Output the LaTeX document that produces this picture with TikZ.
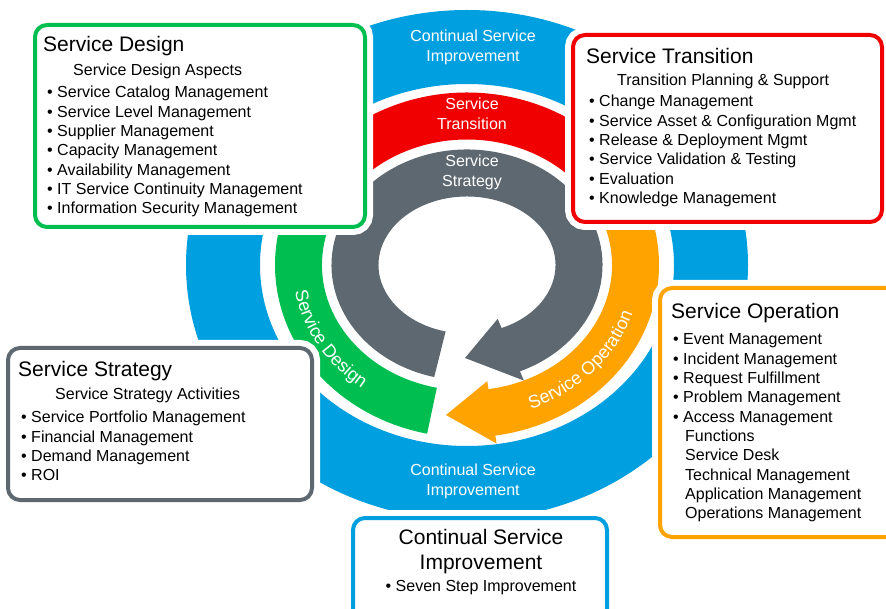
\documentclass[tikz,border=0pt]{standalone}
\usepackage{fontspec}
\setmainfont{Liberation Sans}
\usetikzlibrary{positioning,decorations.text}

\definecolor{csiblue}{RGB}{0,159,223}
\definecolor{stred}{RGB}{240,0,0}
\definecolor{ssgray}{RGB}{93,104,112}
\definecolor{sdgreen}{RGB}{0,190,80}
\definecolor{soorange}{RGB}{255,163,0}

\begin{document}
\begin{tikzpicture}[x=1pt,y=1pt,
    box/.style={draw=#1,line width=4pt,fill=white,rounded corners=12pt,
      preaction={draw=white,line width=16pt}},
    boxtext/.style={anchor=base west,inner sep=0pt,font=\fontsize{16}{19.3}\selectfont},
    bandtext/.style={anchor=base,inner sep=0pt,text=white,font=\fontsize{16}{19.5}\selectfont},
    arctext/.style={decorate,decoration={text along path,text color=white,text align=center,
      text={|\fontsize{18}{18}\selectfont|#1}}}]

\fill[white] (0,0) rectangle (886,608);
\useasboundingbox (0,0) rectangle (886,608);

\begin{scope}[shift={(467,343)}]
  \fill[csiblue,even odd rule] (0,0) ellipse[x radius=281,y radius=255]
    (0,0) ellipse[x radius=207,y radius=181];
  \fill[stred] (38:192 and 172.5) arc[start angle=38,end angle=140,x radius=192,y radius=172.5]
    -- (140:145 and 125.5) arc[start angle=140,end angle=38,x radius=145,y radius=125.5] -- cycle;
  \fill[sdgreen] (140:192 and 172.5) arc[start angle=140,end angle=258,x radius=192,y radius=172.5]
    -- (258:145 and 125.5) arc[start angle=258,end angle=140,x radius=145,y radius=125.5] -- cycle;
  \fill[soorange] (38:192 and 172.5) arc[start angle=38,end angle=-81.5,x radius=192,y radius=172.5]
    -- (-81.5:200 and 180.5) -- (-21,-150) -- (-81.5:137 and 117.5)
    -- (-81.5:145 and 125.5) arc[start angle=-81.5,end angle=38,x radius=145,y radius=125.5] -- cycle;
  \fill[ssgray] (256:135.5 and 115.5) arc[start angle=256,end angle=-67,x radius=135.5,y radius=115.5]
    -- (-67:145.5 and 125.5) -- (-2,-93) -- (-67:78.5 and 58.5)
    -- (-67:88.5 and 68.5) arc[start angle=-67,end angle=256,x radius=88.5,y radius=68.5] -- cycle;
  \path[arctext={Service Design}] (160:174.5 and 155)
    arc[start angle=160,end angle=260,x radius=174.5,y radius=155];
  \path[arctext={Service Operation}] (-92:174.5 and 155)
    arc[start angle=-92,end angle=8,x radius=174.5,y radius=155];
\end{scope}

\node[bandtext] (csitop) at (473,566) {\begin{tabular}[t]{@{}c@{}}Continual Service\\Improvement\end{tabular}};
\node[bandtext] (stlabel) at (472,498) {\begin{tabular}[t]{@{}c@{}}Service\\Transition\end{tabular}};
\node[bandtext] (sslabel) at (472,441) {\begin{tabular}[t]{@{}c@{}}Service\\Strategy\end{tabular}};
\node[bandtext] (csibottom) at (473,132) {\begin{tabular}[t]{@{}c@{}}Continual Service\\Improvement\end{tabular}};

\node[box=sdgreen,minimum width=330,minimum height=202] (design) at (200,482) {};
\node[box=stred,minimum width=309,minimum height=187] (transition) at (727.5,479.5) {};
\node[box=soorange,minimum width=240,minimum height=249] (operation) at (780,195.5) {};
\node[box=ssgray,minimum width=304,minimum height=152] (strategy) at (160,184) {};
\node[box=csiblue,minimum width=254,minimum height=110] (improvement) at (480,35) {};

\node[boxtext] (designtext) at (43,556.3) {\begin{tabular}[t]{@{}l@{}}
  {\fontsize{21}{21}\selectfont Service Design}\\[5pt]
  \hspace{30pt}Service Design Aspects\\[2.7pt]
  \hspace{4pt}\textbullet\ Service Catalog Management\\
  \hspace{4pt}\textbullet\ Service Level Management\\
  \hspace{4pt}\textbullet\ Supplier Management\\
  \hspace{4pt}\textbullet\ Capacity Management\\
  \hspace{4pt}\textbullet\ Availability Management\\
  \hspace{4pt}\textbullet\ IT Service Continuity Management\\
  \hspace{4pt}\textbullet\ Information Security Management
\end{tabular}};

\node[boxtext] (transitiontext) at (586,544) {\begin{tabular}[t]{@{}l@{}}
  {\fontsize{21}{21}\selectfont Service Transition}\\[2.7pt]
  \hspace{31pt}Transition Planning \& Support\\[1.7pt]
  \hspace{3pt}\textbullet\ Change Management\\
  \hspace{3pt}\textbullet\ Service Asset \& Configuration Mgmt\\
  \hspace{3pt}\textbullet\ Release \& Deployment Mgmt\\
  \hspace{3pt}\textbullet\ Service Validation \& Testing\\
  \hspace{3pt}\textbullet\ Evaluation\\
  \hspace{3pt}\textbullet\ Knowledge Management
\end{tabular}};

\node[boxtext] (operationtext) at (671,289) {\begin{tabular}[t]{@{}l@{}}
  {\fontsize{21}{21}\selectfont Service Operation}\\[6.7pt]
  \hspace{2pt}\textbullet\ Event Management\\
  \hspace{2pt}\textbullet\ Incident Management\\
  \hspace{2pt}\textbullet\ Request Fulfillment\\
  \hspace{2pt}\textbullet\ Problem Management\\
  \hspace{2pt}\textbullet\ Access Management\\
  \hspace{14pt}Functions\\
  \hspace{14pt}Service Desk\\
  \hspace{14pt}Technical Management\\
  \hspace{14pt}Application Management\\
  \hspace{14pt}Operations Management
\end{tabular}};

\node[boxtext] (strategytext) at (18,231) {\begin{tabular}[t]{@{}l@{}}
  {\fontsize{21}{21}\selectfont Service Strategy}\\[3.7pt]
  \hspace{37pt}Service Strategy Activities\\[3.7pt]
  \hspace{3pt}\textbullet\ Service Portfolio Management\\
  \hspace{3pt}\textbullet\ Financial Management\\
  \hspace{3pt}\textbullet\ Demand Management\\
  \hspace{3pt}\textbullet\ ROI
\end{tabular}};

\node[boxtext,anchor=base] (improvementtext) at (481,64) {\begin{tabular}[t]{@{}c@{}}
  {\fontsize{21}{21}\selectfont Continual Service}\\[4.9pt]
  {\fontsize{21}{21}\selectfont Improvement}\\[2.7pt]
  \textbullet\ Seven Step Improvement
\end{tabular}};
\end{tikzpicture}
\end{document}
